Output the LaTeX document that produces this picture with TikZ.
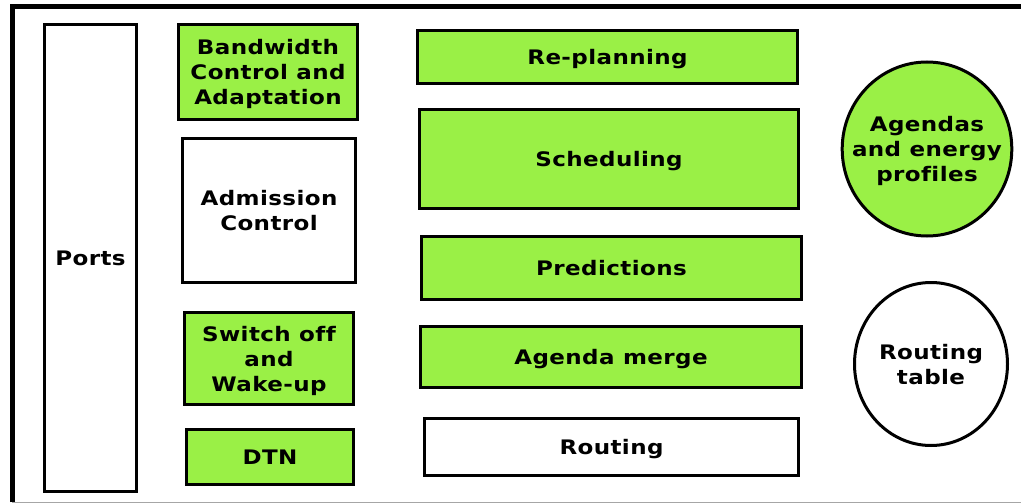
\documentclass[tikz,border=0pt]{standalone}
\usepackage{fontspec}
\usepackage{tikz}
\usetikzlibrary{shapes.geometric, positioning}
\newfontfamily\boxfont{DejaVu Sans}[FakeStretch=1.15, LetterSpace=2, Ligatures=NoCommon]
\definecolor{boxgreen}{RGB}{154,240,70}
\tikzstyle{block} = [rectangle, draw=black, line width=3pt, fill=boxgreen, align=center, inner sep=0pt, text depth=0pt, font=\boxfont\bfseries\fontsize{20}{25}\selectfont]
\tikzstyle{plain} = [block, fill=white]
\tikzstyle{store} = [ellipse, draw=black, line width=3pt, fill=boxgreen, align=center, inner sep=-15pt, text depth=0pt, font=\boxfont\bfseries\fontsize{20}{25}\selectfont]

\begin{document}
\begin{tikzpicture}[x=1pt, y=-1pt]
    \useasboundingbox (0,0) rectangle (1021,503);
    \clip (0,0) rectangle (1021,503);

    % Frame
    \draw [line width=5pt, line join=miter] (12,502) -- (12,6.5) -- (1030,6.5);
    \draw [gray!70, line width=1pt] (12,502) -- (1030,502);

    % Ports
    \node (ports) [plain, minimum width=92pt, minimum height=467pt] at (90.5,258) {Ports};

    % Left column
    \node (bwctrl) [block, minimum width=179pt, minimum height=95pt] at (268,72) {Bandwidth\\Control and\\Adaptation};
    \node (admission) [plain, minimum width=173pt, minimum height=144pt] at (269,210.5) {Admission\\Control};
    \node (switchoff) [block, minimum width=169pt, minimum height=92pt] at (269,358.5) {Switch off\\and\\Wake-up};
    \node (dtn) [block, minimum width=167pt, minimum height=55pt] at (270,457) {DTN};

    % Middle column
    \node (replan) [block, minimum width=380pt, minimum height=53pt] at (607.5,57) {Re-planning};
    \node (sched) [block, minimum width=379pt, minimum height=99pt] at (609,159) {Scheduling};
    \node (predict) [block, minimum width=380pt, minimum height=63pt] at (611.5,268) {Predictions};
    \node (merge) [block, minimum width=381pt, minimum height=61pt] at (611,357) {Agenda merge};
    \node (routing) [plain, minimum width=374pt, minimum height=57pt] at (611.5,447) {Routing};

    % Data stores
    \node (agendas) [store, minimum width=165pt, minimum height=174pt] at (927,149) {Agendas\\and energy\\profiles};
    \node (routetab) [store, fill=white, minimum width=153pt, minimum height=163pt] at (931,364) {Routing\\table};
\end{tikzpicture}
\end{document}
